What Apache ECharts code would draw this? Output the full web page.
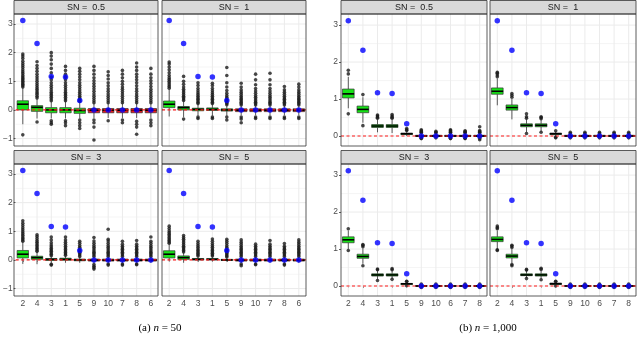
<!DOCTYPE html>
<html><head><meta charset="utf-8">
<script src="https://cdn.jsdelivr.net/npm/echarts@6/dist/echarts.min.js"></script>
<style>html,body{margin:0;padding:0;background:#fff}#c{width:640px;height:339px}</style>
</head><body><div id="c"></div><script>
// ---------- data ----------
const catsA = ['2','4','3','1','5','9','10','7','8','6'];
const catsB = ['2','4','3','1','5','9','10','6','7','8'];
const truthA = [3.12, 2.32, 1.17, 1.15, 0.33, 0, 0, 0, 0, 0];
const truthB = [3.12, 2.32, 1.17, 1.15, 0.33, 0, 0, 0, 0, 0];
const stripLabels = ['SN =  0.5', 'SN =  1', 'SN =  3', 'SN =  5'];
const yTicksA = [-1, 0, 1, 2, 3];
const yMinorA = [-0.5, 0.5, 1.5, 2.5];
const yTicksB = [0, 1, 2, 3];
const yMinorB = [0.5, 1.5, 2.5];
const yRangeA = [-1.26, 3.35];
const yRangeB = [-0.27, 3.30];
const zeroLine = [0];
const captionA = ['(a)', 'n', '50'];
const captionB = ['(b)', 'n', '1,000'];

// box stats: [lower whisker, Q1, median, Q3, upper whisker]
const boxA1 = [[-0.5,0.0,0.2,0.32,0.78],[-0.3,-0.05,0.09,0.15,0.4],[-0.3,-0.1,0.0,0.08,0.3],[-0.3,-0.1,0.0,0.08,0.3],[-0.3,-0.12,-0.02,0.06,0.28],
  [-0.28,-0.1,-0.01,0.05,0.23],[-0.28,-0.1,-0.01,0.05,0.23],[-0.28,-0.1,-0.01,0.05,0.23],[-0.28,-0.1,-0.01,0.05,0.23],[-0.28,-0.1,-0.01,0.05,0.23]];
const outA1 = [
  [0.8,0.85,0.9,0.95,1.0,1.05,1.1,1.15,1.2,1.27,1.33,1.4,1.48,1.55,1.62,1.7,1.8,1.88,1.95,-0.87],
  [0.42,0.48,0.55,0.6,0.66,0.72,0.78,0.85,0.92,1.0,1.08,1.16,1.25,1.35,1.45,1.55,1.68,-0.42],
  [0.32,0.38,0.44,0.5,0.56,0.62,0.7,0.78,0.86,0.95,1.05,1.15,1.3,1.45,1.6,1.75,1.88,2.0,-0.38,-0.45,-0.5],
  [0.32,0.38,0.44,0.5,0.56,0.62,0.7,0.78,0.86,0.95,1.05,1.15,1.25,1.38,1.52,-0.38,-0.45,-0.55],
  [0.3,0.36,0.42,0.48,0.55,0.62,0.7,0.78,0.86,0.95,1.05,1.15,1.25,1.35,1.45,-0.35,-0.45,-0.55,-0.65],
  [0.25,0.32,0.4,0.48,0.56,0.65,0.74,0.83,0.92,1.02,1.12,1.25,1.38,1.52,-0.35,-0.45,-0.6,-1.05],
  [0.25,0.32,0.4,0.48,0.56,0.65,0.74,0.84,0.95,1.08,1.2,1.33,-0.38],
  [0.25,0.32,0.4,0.48,0.56,0.64,0.72,0.8,0.9,1.0,1.12,1.25,1.38,-0.35,-0.45],
  [0.25,0.32,0.4,0.48,0.56,0.65,0.74,0.84,0.95,1.05,1.15,1.25,1.38,1.5,1.64,-0.4,-0.5,-0.6,-0.85],
  [0.25,0.32,0.4,0.48,0.56,0.64,0.72,0.82,0.92,1.02,1.12,1.25,1.45,-0.35,-0.45,-0.55]];

const boxA2 = [[-0.23,0.08,0.2,0.31,0.72],[-0.25,0.0,0.08,0.12,0.3],[-0.2,-0.03,0.02,0.06,0.2],[-0.2,-0.02,0.02,0.07,0.2],[-0.2,-0.04,0.0,0.04,0.15],
  [-0.18,-0.06,-0.01,0.04,0.15],[-0.18,-0.06,-0.01,0.04,0.15],[-0.18,-0.06,-0.01,0.04,0.15],[-0.18,-0.06,-0.01,0.04,0.15],[-0.18,-0.06,-0.01,0.04,0.15]];
const outA2 = [
  [0.76,0.82,0.88,0.94,1.0,1.06,1.12,1.2,1.3,1.4,1.5,1.6,1.67],
  [0.33,0.38,0.43,0.48,0.54,0.6,0.66,0.72,0.8,0.9,1.0,1.17,-0.32],
  [0.22,0.27,0.32,0.37,0.42,0.48,0.54,0.6,0.67,0.75,0.85,0.95,-0.25,-0.3],
  [0.22,0.27,0.32,0.37,0.42,0.48,0.54,0.6,0.67,0.75,0.85,0.93,-0.25,-0.3],
  [0.18,0.23,0.28,0.33,0.38,0.44,0.5,0.58,0.68,0.8,0.95,1.2,1.48,-0.25,-0.35],
  [0.17,0.22,0.27,0.32,0.37,0.42,0.48,0.55,0.62,0.7,0.8,0.93,-0.25,-0.32,-0.45],
  [0.17,0.22,0.27,0.32,0.38,0.44,0.5,0.58,0.66,0.75,0.88,1.05,1.25,-0.25,-0.3],
  [0.17,0.22,0.27,0.32,0.38,0.44,0.5,0.58,0.66,0.75,0.88,1.05,1.28,-0.25,-0.3],
  [0.17,0.22,0.27,0.32,0.37,0.42,0.48,0.55,0.62,0.7,0.82,-0.25,-0.3],
  [0.17,0.22,0.27,0.32,0.37,0.42,0.48,0.55,0.62,0.7,0.8,0.9,-0.25,-0.3]];

const boxA3 = [[-0.14,0.07,0.2,0.33,0.62],[-0.15,0.02,0.08,0.13,0.28],[-0.12,-0.02,0.02,0.05,0.13],[-0.1,-0.01,0.02,0.06,0.14],[-0.1,-0.03,0.0,0.03,0.1],
  [-0.12,-0.04,-0.01,0.03,0.1],[-0.1,-0.04,-0.01,0.03,0.1],[-0.1,-0.04,-0.01,0.03,0.1],[-0.1,-0.04,-0.01,0.03,0.1],[-0.1,-0.04,-0.01,0.03,0.1]];
const outA3 = [
  [0.65,0.7,0.75,0.8,0.86,0.92,0.98,1.05,1.12,1.2,1.28,1.37],
  [0.3,0.35,0.4,0.45,0.5,0.56,0.62,0.68,0.75,0.82,0.88],
  [0.15,0.2,0.25,0.3,0.35,0.4,0.46,0.52,0.6,0.7,0.8,-0.15,-0.18],
  [0.16,0.21,0.26,0.31,0.36,0.42,0.48,0.55,0.62,0.7,0.8],
  [0.12,0.17,0.22,0.27,0.32,0.38,0.44,0.5,0.58,0.65],
  [0.12,0.17,0.22,0.27,0.32,0.38,0.44,0.5,0.58,0.66,0.78,-0.16,-0.22,-0.27,-0.32],
  [0.12,0.17,0.22,0.27,0.32,0.38,0.44,0.5,0.58,0.66,0.72,1.07,-0.14,-0.18],
  [0.12,0.17,0.22,0.27,0.32,0.37,0.42,0.48,0.55,0.65,-0.14,-0.18],
  [0.12,0.17,0.22,0.27,0.32,0.37,0.42,0.48,0.55,0.68,-0.14,-0.17],
  [0.12,0.17,0.22,0.27,0.32,0.38,0.44,0.5,0.58,0.65,0.8]];

const boxA4 = [[-0.05,0.07,0.2,0.32,0.55],[-0.1,0.02,0.08,0.14,0.26],[-0.06,0.0,0.02,0.05,0.12],[-0.06,0.0,0.02,0.05,0.12],[-0.06,-0.02,0.0,0.02,0.08],
  [-0.1,-0.04,-0.01,0.03,0.1],[-0.1,-0.04,-0.01,0.03,0.1],[-0.1,-0.04,-0.01,0.03,0.1],[-0.1,-0.04,-0.01,0.03,0.1],[-0.1,-0.04,-0.01,0.03,0.1]];
const outA4 = [
  [0.58,0.63,0.68,0.73,0.78,0.84,0.9,0.96,1.02,1.1,1.18],
  [0.28,0.33,0.38,0.43,0.48,0.54,0.6,0.66,0.72,0.78,0.85],
  [0.14,0.18,0.23,0.28,0.33,0.38,0.44,0.5,0.57,0.65],
  [0.14,0.18,0.23,0.28,0.33,0.38,0.44,0.5,0.57,0.65,0.73],
  [0.1,0.14,0.18,0.23,0.28,0.33,0.38,0.44,0.5,0.58,0.65,0.72],
  [0.12,0.17,0.22,0.27,0.32,0.37,0.42,0.48,0.55,0.62,0.7,-0.14,-0.2],
  [0.12,0.17,0.22,0.27,0.32,0.37,0.42,0.48,0.55,-0.14,-0.17],
  [0.12,0.17,0.22,0.27,0.32,0.37,0.42,0.48,0.55,0.68],
  [0.12,0.17,0.22,0.27,0.32,0.37,0.42,0.48,0.57,-0.14,-0.18],
  [0.12,0.17,0.22,0.27,0.32,0.37,0.42,0.48,0.55,0.62,0.7]];

const boxB1 = [[0.75,1.03,1.14,1.27,1.6],[0.36,0.63,0.72,0.81,1.05],[0.1,0.23,0.27,0.31,0.45],[0.08,0.23,0.27,0.31,0.45],[0.0,0.04,0.06,0.08,0.13],
  [-0.04,-0.01,0.0,0.02,0.06],[-0.04,-0.01,0.0,0.02,0.06],[-0.04,-0.01,0.0,0.02,0.06],[-0.04,-0.01,0.0,0.02,0.06],[-0.04,-0.01,0.0,0.02,0.06]];
const outB1 = [[1.68,1.78,0.6],[1.12,0.28],[0.48,0.51,0.54,0.57],[0.48,0.51,0.54,0.58],[0.15,0.17,0.2],
  [0.08,0.1,0.12,0.14,0.17,-0.06,-0.07],[0.08,0.1,0.13,-0.05],[0.08,0.1,0.12,0.15,0.17,-0.06,-0.07],[0.08,0.1,0.12,0.14,-0.06,-0.07],[0.08,0.1,0.12,0.15,0.25,-0.06,-0.1]];

const boxB2 = [[0.83,1.13,1.21,1.3,1.55],[0.45,0.7,0.77,0.84,1.0],[0.1,0.25,0.29,0.33,0.45],[0.12,0.25,0.29,0.33,0.45],[0.0,0.04,0.06,0.08,0.12],
  [-0.03,-0.01,0.0,0.02,0.05],[-0.03,-0.01,0.0,0.02,0.05],[-0.03,-0.01,0.0,0.02,0.05],[-0.03,-0.01,0.0,0.02,0.05],[-0.03,-0.01,0.0,0.02,0.05]];
const outB2 = [[1.6,1.65,1.7,1.72],[1.05,1.1,1.15],[0.48,0.52,0.6,0.07],[0.47,0.5,0.52,0.1],[0.14,-0.03,-0.05],
  [0.07,0.1,-0.05],[0.07,0.1,-0.05],[0.07,0.1,-0.05],[0.07,0.1,-0.05],[0.07,0.1,-0.05]];

const boxB3 = [[1.0,1.17,1.25,1.33,1.5],[0.6,0.75,0.8,0.86,1.02],[0.18,0.27,0.3,0.33,0.42],[0.2,0.27,0.3,0.33,0.42],[0.02,0.04,0.06,0.07,0.1],
  [-0.02,-0.005,0.0,0.01,0.03],[-0.02,-0.005,0.0,0.01,0.03],[-0.02,-0.005,0.0,0.01,0.03],[-0.02,-0.005,0.0,0.01,0.03],[-0.02,-0.005,0.0,0.01,0.03]];
const outB3 = [[1.55,0.96],[1.06,1.1,1.12,0.55],[0.44,0.46,0.15],[0.44,0.47,0.18],[0.12,0.13,0.01],
  [0.05,-0.04],[0.05,-0.04],[0.05,-0.04],[0.05,-0.04],[0.05,-0.04]];

const boxB4 = [[1.0,1.2,1.26,1.33,1.5],[0.62,0.76,0.81,0.86,1.0],[0.22,0.28,0.3,0.33,0.4],[0.2,0.27,0.3,0.33,0.42],[0.02,0.04,0.06,0.08,0.1],
  [-0.02,-0.005,0.0,0.01,0.03],[-0.02,-0.005,0.0,0.01,0.03],[-0.02,-0.005,0.0,0.01,0.03],[-0.02,-0.005,0.0,0.01,0.03],[-0.02,-0.005,0.0,0.01,0.03]];
const outB4 = [[1.55,1.58,1.62,0.98,0.96],[1.04,1.08,1.1,0.58,0.55],[0.43,0.45,0.2],[0.45,0.48,0.17],[0.12,0.13,0.0],
  [0.05,-0.04],[0.05,-0.04],[0.05,-0.04],[0.05,-0.04],[0.05,-0.04]];

// ---------- panels & layout ----------
const panels = [
  {cats:catsA, truth:truthA, box:boxA1, out:outA1, strip:0, yr:yRangeA, yt:yTicksA, ym:yMinorA},
  {cats:catsA, truth:truthA, box:boxA2, out:outA2, strip:1, yr:yRangeA, yt:yTicksA, ym:yMinorA},
  {cats:catsA, truth:truthA, box:boxA3, out:outA3, strip:2, yr:yRangeA, yt:yTicksA, ym:yMinorA},
  {cats:catsA, truth:truthA, box:boxA4, out:outA4, strip:3, yr:yRangeA, yt:yTicksA, ym:yMinorA},
  {cats:catsB, truth:truthB, box:boxB1, out:outB1, strip:0, yr:yRangeB, yt:yTicksB, ym:yMinorB},
  {cats:catsB, truth:truthB, box:boxB2, out:outB2, strip:1, yr:yRangeB, yt:yTicksB, ym:yMinorB},
  {cats:catsB, truth:truthB, box:boxB3, out:outB3, strip:2, yr:yRangeB, yt:yTicksB, ym:yMinorB},
  {cats:catsB, truth:truthB, box:boxB4, out:outB4, strip:3, yr:yRangeB, yt:yTicksB, ym:yMinorB}
];
const layout = [
  {l:14, t:14, w:144, h:132, left:true, bottom:false},
  {l:162, t:14, w:144, h:132, left:false, bottom:false},
  {l:14, t:164, w:144, h:132, left:true, bottom:true},
  {l:162, t:164, w:144, h:132, left:false, bottom:true},
  {l:341, t:14, w:146, h:132, left:true, bottom:false},
  {l:490, t:14, w:146, h:132, left:false, bottom:false},
  {l:341, t:164, w:146, h:132, left:true, bottom:true},
  {l:490, t:164, w:146, h:132, left:false, bottom:true}
];
const SANS = 'Liberation Sans, Arial, sans-serif';
const GREEN = '#16E316', RED = '#E8191C';

const grids = [], xAxes = [], yAxes = [], series = [], graphics = [];
const fmt = v => (v < 0 ? '\u2212' : '') + Math.abs(v);

function hline(width) {
  return function (params, api) {
    const cs = params.coordSys;
    const y = api.coord([0, api.value(1)])[1];
    return {type:'line', silent:true, shape:{x1:cs.x, y1:y, x2:cs.x + cs.width, y2:y},
      style:{stroke:'#EBEBEB', lineWidth:width}};
  };
}
function vline(params, api) {
  const cs = params.coordSys;
  const x = api.coord([api.value(0), 0])[0];
  return {type:'line', silent:true, shape:{x1:x, y1:cs.y, x2:x, y2:cs.y + cs.height},
    style:{stroke:'#EBEBEB', lineWidth:1}};
}
function zeroRender(params, api) {
  const cs = params.coordSys;
  const y = api.coord([0, api.value(1)])[1];
  return {type:'line', silent:true, shape:{x1:cs.x, y1:y, x2:cs.x + cs.width, y2:y},
    style:{stroke:'#FF1A1A', lineWidth:1.2, lineDash:[3, 2.5]}};
}
function boxRender(truth) {
  return function (params, api) {
    const k = api.value(0);
    const x = api.coord([k, 0])[0];
    const bw = api.size([1, 0])[0] * 0.8;
    const py = v => api.coord([k, v])[1];
    const lo = py(api.value(1)), q1 = py(api.value(2)), md = py(api.value(3)), q3 = py(api.value(4)), hi = py(api.value(5));
    const fill = truth[k] > 0 ? GREEN : RED;
    return {type:'group', children:[
      {type:'line', shape:{x1:x, y1:q1, x2:x, y2:lo}, style:{stroke:'#333', lineWidth:0.8}},
      {type:'line', shape:{x1:x, y1:q3, x2:x, y2:hi}, style:{stroke:'#333', lineWidth:0.8}},
      {type:'rect', shape:{x:x - bw / 2, y:q3, width:bw, height:Math.max(q1 - q3, 0.5)}, style:{fill:fill, stroke:'#333', lineWidth:0.7}},
      {type:'line', shape:{x1:x - bw / 2, y1:md, x2:x + bw / 2, y2:md}, style:{stroke:'#000', lineWidth:1.6}}
    ]};
  };
}

panels.forEach((p, i) => {
  const L = layout[i];
  grids.push({left:L.l, top:L.t, width:L.w, height:L.h, show:false, containLabel:false});
  xAxes.push({gridIndex:i, type:'category', data:p.cats, boundaryGap:true,
    axisLine:{show:false}, splitLine:{show:false},
    axisTick:{show:L.bottom, alignWithLabel:true, length:2, lineStyle:{color:'#333', width:0.8}},
    axisLabel:{show:L.bottom, interval:0, color:'#4D4D4D', fontSize:8.5, fontFamily:SANS, margin:3}});
  yAxes.push({gridIndex:i, type:'value', min:p.yr[0], max:p.yr[1],
    axisLine:{show:false}, splitLine:{show:false},
    axisTick:{show:L.left, length:2, lineStyle:{color:'#333', width:0.8}, customValues:p.yt},
    axisLabel:{show:L.left, customValues:p.yt, color:'#4D4D4D', fontSize:8.5, fontFamily:SANS, margin:3,
      formatter: v => (p.yt.indexOf(+(+v).toFixed(6)) >= 0 ? fmt(+(+v).toFixed(6)) : '')}});
  // grid lines
  series.push({type:'custom', xAxisIndex:i, yAxisIndex:i, z:1, silent:true, renderItem:hline(0.5),
    data:p.ym.map(v => [0, v])});
  series.push({type:'custom', xAxisIndex:i, yAxisIndex:i, z:1, silent:true, renderItem:hline(1),
    data:p.yt.map(v => [0, v])});
  series.push({type:'custom', xAxisIndex:i, yAxisIndex:i, z:1, silent:true, renderItem:vline,
    data:p.cats.map((c, k) => [k, 0])});
  // boxes
  series.push({type:'custom', xAxisIndex:i, yAxisIndex:i, z:2, silent:true, renderItem:boxRender(p.truth),
    encode:{x:0, y:[1, 2, 3, 4, 5]},
    data:p.box.map((b, k) => [k].concat(b))});
  // outliers
  const od = [];
  p.out.forEach((arr, k) => arr.forEach(v => od.push([k, v])));
  series.push({type:'scatter', xAxisIndex:i, yAxisIndex:i, z:3, silent:true, symbol:'circle', symbolSize:3.6,
    itemStyle:{color:'#1A1A1A'}, data:od});
  // zero reference
  series.push({type:'custom', xAxisIndex:i, yAxisIndex:i, z:4, silent:true, renderItem:zeroRender,
    data:zeroLine.map(v => [0, v])});
  // true values
  series.push({type:'scatter', xAxisIndex:i, yAxisIndex:i, z:5, silent:true, symbol:'circle', symbolSize:5.5,
    itemStyle:{color:'#0000FF'}, data:p.truth.map((t, k) => [k, t])});
  // strip + border
  graphics.push({type:'rect', z:50, shape:{x:L.l, y:L.t - 13.5, width:L.w, height:13.5},
    style:{fill:'#D9D9D9', stroke:'#333', lineWidth:0.8}});
  graphics.push({type:'text', z:51, x:L.l + L.w / 2, y:L.t - 6.5,
    style:{text:stripLabels[p.strip], fill:'#1A1A1A', fontSize:9, fontFamily:SANS, align:'center', verticalAlign:'middle'}});
  graphics.push({type:'rect', z:50, shape:{x:L.l, y:L.t, width:L.w, height:L.h},
    style:{fill:'none', stroke:'#333', lineWidth:0.8}});
});

[[captionA, 160], [captionB, 488]].forEach(([c, cx]) => {
  graphics.push({type:'text', z:51, x:cx, y:328,
    style:{text:c[0] + ' {i|' + c[1] + '} = ' + c[2], fill:'#000', fontSize:11, fontFamily:'Liberation Serif, serif',
      align:'center', verticalAlign:'middle',
      rich:{i:{fontStyle:'italic', fontSize:11, fontFamily:'Liberation Serif, serif', fill:'#000'}}}});
});

const chart = echarts.init(document.getElementById('c'), null, {renderer:'canvas'});
chart.setOption({animation:false, backgroundColor:'#fff', grid:grids, xAxis:xAxes, yAxis:yAxes, series:series, graphic:graphics});
</script></body></html>
